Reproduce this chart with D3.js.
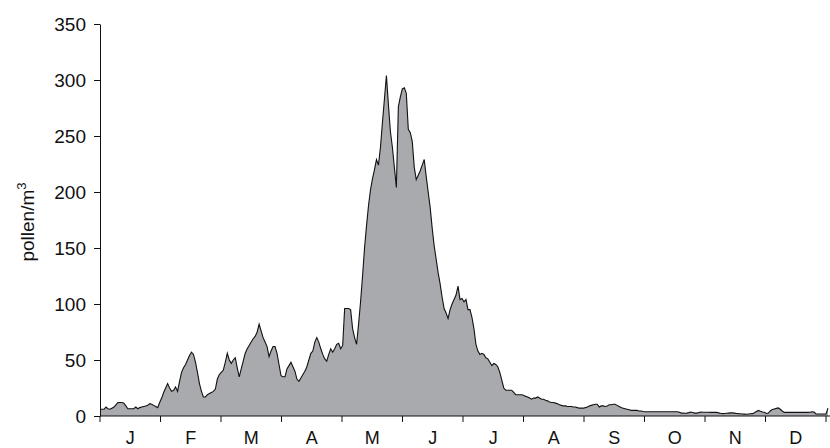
<!DOCTYPE html>
<html>
<head>
<meta charset="utf-8">
<script src="https://cdn.jsdelivr.net/npm/d3@7"></script>
<style>
  body { margin: 0; background: #fff; }
  svg { display: block; font-family: "Liberation Sans", Arial, sans-serif; }
</style>
</head>
<body>
<svg width="830" height="448"></svg>
<script>
// month labels and y ticks
var months = ["J", "F", "M", "A", "M", "J", "J", "A", "S", "O", "N", "D"];
var yTicks = [0, 50, 100, 150, 200, 250, 300, 350];

// daily pollen counts (pollen/m3)
var jan = [6,6,6,8,6.5,6,7,8,10,12,12,12,11.5,9,6.5,6.5,6.5,6.5,8,6.5,7.5,8,8.5,9,9.5,11,10.5,9.5,8.5,7.5,12];
var feb = [16,21,25,29,25,22,23,26,22,31,39,43,46,50,54,57,55,48,39,29,22,17,17,19,20,21,22,24];
var mar = [33,37,39,41,48,56,50,47,50,52,43,35,42,49,56,60,63,66,69,71,75,82,76,70,66,62,53,58,62,62,56];
var apr = [46,36,35,35,42,45,48,44,40,33,31,34,37,40,44,50,56,58,66,70,66,60,55,51,49,55,60,57,60,64];
var may = [65,60,63,96,96,96,95,78,70,64,82,102,125,150,170,188,202,212,220,229,224,240,262,283,304,278,254,240,222,204,276];
var jun = [285,292,293,288,256,253,245,222,211,215,219,224,229,214,200,186,168,152,140,128,118,106,96,92,87,95,100,104,108,116];
var jul = [104,105,102,104,95,95,88,78,64,58,55,56,55,52,51,48,45,47,46,44,39,32,25,23,23,23,23,21,19,19,19];
var aug = [19,18.5,17.5,17,16,15,16,16,17,16,15,15,14,13.5,12.5,12,12,11.5,11,10,9.5,9,9,8.5,8.5,8.5,8,8,7.5,7,7];
var sep = [7,7.5,8,9,9.5,10,10.5,10.5,8,9,9,8.5,9,10,10,10.5,10.5,9.5,8.5,7.5,7,6.5,6,5.5,5,5,5,5,4.5,4.5];
var oct = [4,3.8,3.8,3.8,3.8,3.8,3.8,3.8,3.8,3.8,3.8,3.8,3.8,3.8,3.8,3.8,3.8,3.8,3.5,2.8,2.6,2.4,2.6,3,3.6,3.2,2.6,2.6,3,3.5,3.4];
var nov = [3.3,3.3,3.3,3.2,3.2,3.2,3.2,2.8,2.4,2.1,2.2,2.4,2.6,2.8,2.8,2.6,2.3,2.1,2,1.8,1.7,1.6,1.8,2,2.1,3,4,5,4.2,3.6];
var dec = [3.4,2.2,2.6,4.5,5.8,6.3,6.8,7.2,6,4.5,3.2,3.2,3.2,3.2,3.2,3.2,3.2,3.2,3.2,3.2,3.2,3.2,3.2,3.3,3.8,3.5,1.8,1.8,1.8,1.8,1.8,1.8,7];

var pollen = [].concat(jan, feb, mar, apr, may, jun, jul, aug, sep, oct, nov, dec);

var svg = d3.select("svg");
var mLeft = 100, mRight = 826, mTop = 24, mBottom = 416;
var fs = 19;

var x = d3.scaleLinear().domain([0, 365]).range([mLeft, mRight]);
var y = d3.scaleLinear().domain([0, 350]).range([mBottom, mTop]);
var xm = d3.scaleBand().domain(d3.range(12)).range([mLeft, mRight]);

var area = d3.area()
  .x(function(d, i) { return x(i); })
  .y0(y(0))
  .y1(function(d) { return y(d); });

var line = d3.line()
  .x(function(d, i) { return x(i); })
  .y(function(d) { return y(d); });

svg.append("path")
  .datum(pollen)
  .attr("d", area)
  .attr("fill", "#a9aaae");

svg.append("path")
  .datum(pollen)
  .attr("d", line)
  .attr("fill", "none")
  .attr("stroke", "#111")
  .attr("stroke-width", 1.1);

// y axis
var yAxis = svg.append("g")
  .attr("transform", "translate(" + mLeft + ",0)")
  .call(d3.axisLeft(y).tickValues(yTicks).tickSize(6).tickSizeOuter(0).tickPadding(8));
yAxis.selectAll("text")
  .attr("font-size", fs)
  .attr("fill", "#111")
  .attr("font-family", "Liberation Sans, Arial, sans-serif");
yAxis.selectAll("line, path").attr("stroke", "#111");

// x axis: baseline, month boundary ticks, centred labels
svg.append("line")
  .attr("x1", mLeft).attr("x2", 830)
  .attr("y1", mBottom).attr("y2", mBottom)
  .attr("stroke", "#111");

var bounds = d3.range(13).map(function(i) { return i < 12 ? xm(i) : mRight; });
svg.selectAll(".mtick")
  .data(bounds)
  .enter().append("line")
  .attr("class", "mtick")
  .attr("x1", function(d) { return d; })
  .attr("x2", function(d) { return d; })
  .attr("y1", mBottom).attr("y2", mBottom + 6)
  .attr("stroke", "#111");

svg.selectAll(".mlabel")
  .data(months)
  .enter().append("text")
  .attr("class", "mlabel")
  .attr("x", function(d, i) { return xm(i) + xm.bandwidth() / 2; })
  .attr("y", 444)
  .attr("text-anchor", "middle")
  .attr("font-size", 18)
  .attr("fill", "#111")
  .text(function(d) { return d; });

// y title
var title = svg.append("text")
  .attr("transform", "translate(34,222) rotate(-90)")
  .attr("text-anchor", "middle")
  .attr("font-size", fs)
  .attr("fill", "#111");
title.append("tspan").text("pollen/m");
title.append("tspan").attr("font-size", 13).attr("dy", -8).text("3");
</script>
</body>
</html>
